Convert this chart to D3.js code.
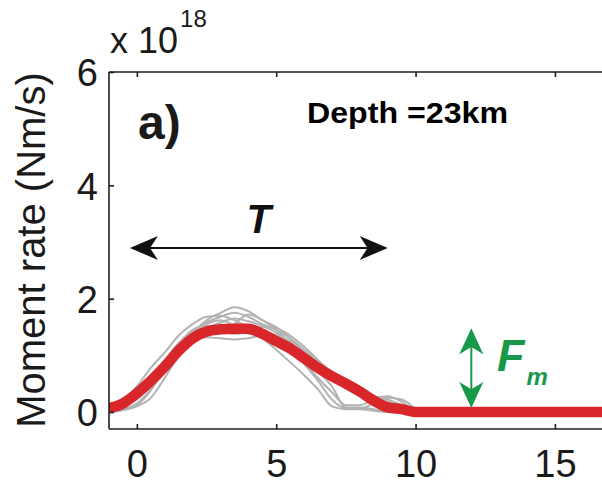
<!DOCTYPE html>
<html>
<head>
<meta charset="utf-8">
<script src="https://cdn.jsdelivr.net/npm/d3@7"></script>
<style>
  html, body { margin: 0; padding: 0; background: #fff; }
  svg { display: block; }
  text { font-family: Arial, "Liberation Sans", Helvetica, sans-serif; }
</style>
</head>
<body>
<svg id="chart" width="602" height="486"></svg>
<script>
// ---------- data ----------
const timeGrid = [-1,-0.5,0,0.5,1,1.5,2,2.5,3,3.5,4,4.5,5,5.5,6,6.5,7,7.5,8,8.5,9,9.5,10];
const graySeries = [
  [0.02,0.05,0.15,0.40,0.75,1.10,1.40,1.62,1.75,1.85,1.78,1.62,1.50,1.30,1.05,0.80,0.60,0.42,0.30,0.18,0.08,0.02,0],
  [0.08,0.20,0.45,0.78,1.05,1.35,1.55,1.68,1.70,1.62,1.48,1.30,1.10,0.88,0.65,0.40,0.10,0.05,0.05,0.02,0,0,0],
  [0.00,0.03,0.10,0.25,0.60,1.00,1.28,1.38,1.40,1.55,1.72,1.62,1.45,1.20,0.90,0.60,0.35,0.12,0.12,0.20,0.08,0,0],
  [0.08,0.15,0.35,0.62,0.90,1.15,1.28,1.32,1.30,1.28,1.30,1.35,1.35,1.25,1.05,0.85,0.65,0.50,0.38,0.28,0.22,0.12,0],
  [0.00,0.04,0.12,0.38,0.78,1.12,1.32,1.40,1.48,1.55,1.50,1.42,1.35,1.15,0.85,0.55,0.22,0.06,0.06,0.15,0.25,0.22,0.05],
  [0.05,0.10,0.28,0.55,0.90,1.22,1.42,1.48,1.58,1.65,1.60,1.52,1.40,1.22,1.00,0.72,0.45,0.08,0.08,0.05,0,0,0],
  [0.02,0.08,0.30,0.60,0.92,1.18,1.38,1.55,1.62,1.52,1.38,1.35,1.30,1.15,0.95,0.75,0.58,0.45,0.35,0.25,0.18,0.08,0],
  [0.03,0.10,0.32,0.58,0.85,1.12,1.38,1.58,1.68,1.75,1.68,1.55,1.45,1.30,1.10,0.90,0.70,0.52,0.38,0.25,0.28,0.18,0],
  [0.05,0.12,0.22,0.48,0.85,1.20,1.45,1.52,1.45,1.38,1.42,1.50,1.48,1.35,1.15,0.92,0.68,0.48,0.32,0.20,0.12,0.05,0]
];
const redTime  = [-1,-0.5,0,0.5,1,1.5,2,2.5,3,3.5,4,4.5,5,5.5,6,6.5,7,7.5,8,8.5,9,9.5,10,17];
const redValue = [0.07,0.15,0.33,0.55,0.80,1.08,1.30,1.42,1.46,1.47,1.47,1.38,1.25,1.12,0.95,0.78,0.63,0.50,0.36,0.20,0.08,0.05,0,0];
const xTicks = [0,5,10,15];
const yTicks = [0,2,4,6];
const yLabel = "Moment rate (Nm/s)";
const exponentBase = "x 10";
const exponent = "18";
const panelLabel = "a)";
const depthLabel = "Depth =23km";
const durationLabel = "T";
const durationSpan = [-0.25, 9.0];   // time extent of the T arrow
const fmTime = 12;                   // time of the F_m arrow
const fmSpan = [0, 1.6];             // value extent of the F_m arrow

// ---------- layout ----------
const svg = d3.select("#chart");
const pLeft = 109, pTop = 72, pBottom = 429, pRight = 602;
const x = d3.scaleLinear().domain([-1, 17]).range([pLeft, pLeft + 18 * 27.87]);
const y = d3.scaleLinear().domain([-0.3, 6]).range([pBottom, pTop]);

const axisColor = "#1e1e1e";
const gray = "#b3b3b3";
const red = "#d9262b";
const green = "#18994a";

svg.append("defs").append("clipPath").attr("id", "plotclip")
  .append("rect").attr("x", pLeft).attr("y", pTop).attr("width", pRight - pLeft).attr("height", pBottom - pTop);

const plot = svg.append("g").attr("clip-path", "url(#plotclip)");

const line = d3.line().x(d => x(d[0])).y(d => y(d[1])).curve(d3.curveMonotoneX);

graySeries.forEach(vals => {
  plot.append("path")
    .datum(timeGrid.map((t, i) => [t, vals[i]]))
    .attr("d", line)
    .attr("fill", "none")
    .attr("stroke", gray)
    .attr("stroke-width", 2);
});

plot.append("path")
  .datum(redTime.map((t, i) => [t, redValue[i]]))
  .attr("d", line)
  .attr("fill", "none")
  .attr("stroke", red)
  .attr("stroke-width", 10.5)
  .attr("stroke-linejoin", "round");

// ---------- axes ----------
const xAxisB = d3.axisBottom(x).tickValues(xTicks).tickSizeInner(-5).tickSizeOuter(0).tickPadding(12).tickFormat(d3.format("d"));
const gxb = svg.append("g").attr("transform", `translate(0,${pBottom})`).call(xAxisB);
gxb.select(".domain").attr("d", `M${pLeft},0H${pRight}`);
const xAxisT = d3.axisTop(x).tickValues(xTicks).tickSizeInner(-5).tickSizeOuter(0).tickFormat("");
const gxt = svg.append("g").attr("transform", `translate(0,${pTop})`).call(xAxisT);
gxt.select(".domain").attr("d", `M${pLeft},0H${pRight}`);
const yAxis = d3.axisLeft(y).tickValues(yTicks).tickSizeInner(-5).tickSizeOuter(0).tickPadding(12).tickFormat(d3.format("d"));
const gy = svg.append("g").attr("transform", `translate(${pLeft},0)`).call(yAxis);
gy.select(".domain").attr("d", `M0,${pTop}V${pBottom}`);

svg.selectAll(".domain, .tick line").attr("stroke", axisColor).attr("stroke-width", 1.6);
svg.selectAll(".tick text").attr("font-size", 38).attr("fill", "#1a1a1a")
  .attr("font-family", "Arial, 'Liberation Sans', sans-serif");
gxb.selectAll(".tick text").attr("dy", "0.71em").attr("y", 21);
gy.selectAll(".tick text").attr("x", -11).attr("dy", "0.36em");

// y label
svg.append("text")
  .attr("transform", `translate(45,${250}) rotate(-90)`)
  .attr("text-anchor", "middle")
  .attr("font-size", 40)
  .attr("fill", "#1a1a1a")
  .text(yLabel);

// exponent
const ex = svg.append("text").attr("x", 110).attr("y", 53).attr("font-size", 36).attr("fill", "#1a1a1a");
ex.append("tspan").text(exponentBase);
ex.append("tspan").attr("font-size", 24).attr("dy", -26).attr("dx", 2).text(exponent);

// panel label
svg.append("text").attr("x", 138).attr("y", 139).attr("font-size", 48).attr("font-weight", "bold")
  .attr("fill", "#1a1a1a").text(panelLabel);

// depth label
svg.append("text").attr("x", 307).attr("y", 123).attr("font-size", 30).attr("font-weight", "bold")
  .attr("font-family", "Lato, 'Open Sans', sans-serif").attr("fill", "#000")
  .attr("textLength", 201).attr("lengthAdjust", "spacingAndGlyphs").text(depthLabel);

// arrows
function arrowHead(g, tipX, tipY, dir, color, len, half) {
  const [dx, dy] = dir;
  const px = -dy, py = dx;
  const bx = tipX - dx * len, by = tipY - dy * len;
  const nx = tipX - dx * len * 0.72, ny = tipY - dy * len * 0.72;
  g.append("path")
    .attr("d", `M${tipX},${tipY}L${bx + px * half},${by + py * half}L${nx},${ny}L${bx - px * half},${by - py * half}Z`)
    .attr("fill", color);
}
const ty = 248;
const tg = svg.append("g");
const tx0 = x(durationSpan[0]), tx1 = x(durationSpan[1]);
tg.append("line").attr("x1", tx0 + 10).attr("x2", tx1 - 10).attr("y1", ty).attr("y2", ty)
  .attr("stroke", "#111").attr("stroke-width", 2);
arrowHead(tg, tx0, ty, [-1, 0], "#111", 28, 12);
arrowHead(tg, tx1, ty, [1, 0], "#111", 28, 12);
svg.append("text").attr("x", (tx0 + tx1) / 2).attr("y", 233).attr("text-anchor", "middle")
  .attr("font-size", 40).attr("font-weight", "bold").attr("font-style", "italic").attr("fill", "#111")
  .text(durationLabel);

const fg = svg.append("g");
const fx = x(fmTime);
const fy0 = y(fmSpan[0]) - 4, fy1 = y(fmSpan[1]) + 7;
fg.append("line").attr("x1", fx).attr("x2", fx).attr("y1", fy1 + 10).attr("y2", fy0 - 10)
  .attr("stroke", green).attr("stroke-width", 2);
arrowHead(fg, fx, fy1, [0, -1], green, 26, 12);
arrowHead(fg, fx, fy0, [0, 1], green, 26, 12);
const ft = svg.append("text").attr("x", 497).attr("y", 371).attr("font-size", 45)
  .attr("font-weight", "bold").attr("font-style", "italic").attr("fill", green);
ft.append("tspan").text("F");
ft.append("tspan").attr("font-size", 24).attr("dy", 14).attr("dx", 2).text("m");
</script>
</body>
</html>
